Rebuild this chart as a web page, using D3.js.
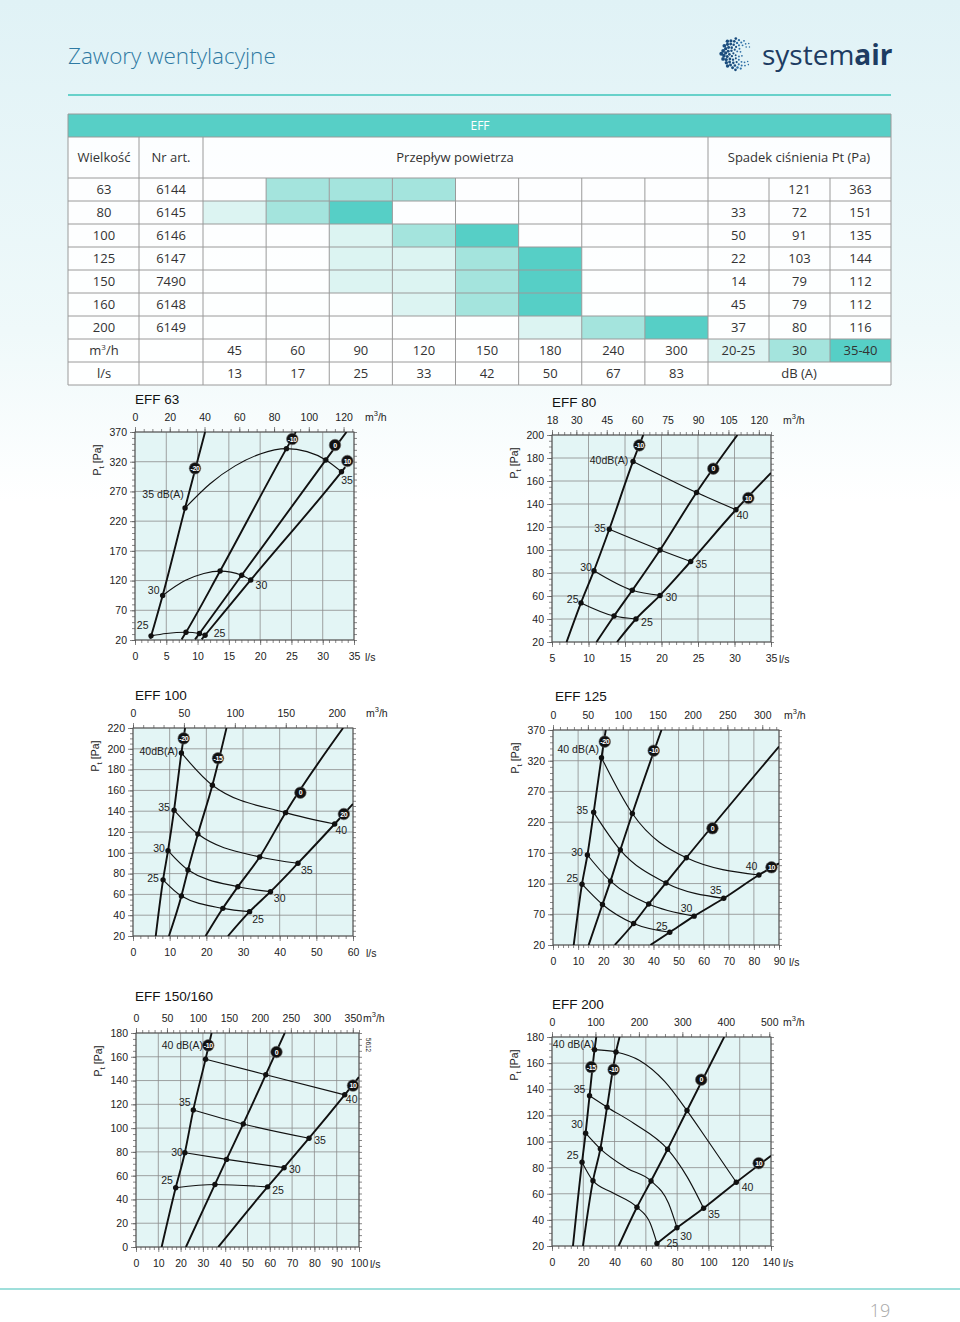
<!DOCTYPE html>
<html><head><meta charset="utf-8">
<script src="https://cdn.jsdelivr.net/npm/d3@7"></script>
<style>body{margin:0;background:#fff}svg{display:block}</style>
</head><body><svg id="c" width="960" height="1322"></svg>
<script>
// ================= TABLE DATA =================
const sizes = ["63","80","100","125","150","160","200"];
const artNos = ["6144","6145","6146","6147","7490","6148","6149"];
const flowM3h = [45,60,90,120,150,180,240,300];
const flowLs = [13,17,25,33,42,50,67,83];
const dropPa = [["",121,363],[33,72,151],[50,91,135],[22,103,144],[14,79,112],[45,79,112],[37,80,116]];
const dbLevels = ["20-25","30","35-40"];
const cellShade = [
  [0,2,2,2,0,0,0,0],[1,2,3,0,0,0,0,0],[0,0,1,2,3,0,0,0],[0,0,1,1,2,3,0,0],
  [0,0,1,1,2,3,0,0],[0,0,0,1,2,3,0,0],[0,0,0,0,0,1,2,3]];

// ================= EFF 63 =================
const eff63LsTicks = [0,5,10,15,20,25,30,35];
const eff63PaTicks = [20,70,120,170,220,270,320,370];
const eff63M3hTicks = [0,20,40,60,80,100,120];
const eff63ValveNames = ["-20","-10","0","10"];
const eff63Valves = [
  [[2.45,22],[4.42,95],[8.0,242],[11.2,370]],
  [[7.46,21],[8.15,33],[13.6,136],[24.2,342],[25.7,370]],
  [[9.6,21],[10.3,31],[17.05,129],[30.5,323],[33.8,370]],
  [[10.65,21],[11.2,28],[18.5,121],[33.0,303],[33.6,311]]];
const eff63Badges = [[9.59,308.9],[25.14,358.2],[31.96,348],[33.94,321.2]];
const eff63Db = [
  [[8.0,242,1],[12,283,0],[16,313,0],[20,333,0],[24.2,342,1],[27.5,337,0],[30.5,323,1],[33.0,303,1]],
  [[4.42,95,1],[8,120,0],[11,132,0],[13.6,136,1],[17.05,129,1],[18.5,121,1]],
  [[2.56,27,1],[5,31,0],[8.15,33,1],[10.3,31,1],[11.2,28,1]]];
const eff63DbLabels = [["35 dB(A)",1.17,265.6,"start"],["35",33.9,288],["30",2.98,103],["30",20.2,112.5],["25",1.23,44],["25",13.5,31.3]];

// ================= EFF 80 =================
const eff80LsTicks = [5,10,15,20,25,30,35];
const eff80PaTicks = [20,40,60,80,100,120,140,160,180,200];
const eff80M3hTicks = [18,30,45,60,75,90,105,120];
const eff80ValveNames = ["-10","0","10"];
const eff80Valves = [
  [[7.0,20],[8.97,54],[10.75,82],[12.85,118],[16.1,177],[17.5,200]],
  [[11.1,20],[13.5,42.6],[16.0,65],[19.8,100],[24.8,150],[30.4,200]],
  [[13.9,20],[16.5,40],[19.8,60.5],[24.0,90],[30.2,135],[35,167]]];
const eff80Badges = [[16.96,191],[27.1,170.7],[31.9,145.2]];
const eff80Db = [
  [[16.1,177,1],[24.8,150,1],[30.2,135,1]],
  [[12.85,118,1],[19.8,100,1],[24.0,90,1]],
  [[10.75,82,1],[16.0,65,1],[19.8,60.5,1]],
  [[8.97,54,1],[13.5,42.6,1],[16.5,40,1]]];
const eff80DbLabels = [["40dB(A)",15.45,178.3,"end"],["40",31.1,129.8],["35",11.58,119.1],["35",25.45,87.8],["30",9.66,84.9],["30",21.34,58.8],["25",7.83,57.4],["25",18.0,37]];

// ================= EFF 100 =================
const eff100LsTicks = [0,10,20,30,40,50,60];
const eff100PaTicks = [20,40,60,80,100,120,140,160,180,200,220];
const eff100M3hTicks = [0,50,100,150,200];
const eff100ValveNames = ["-20","-15","0","20"];
const eff100Valves = [
  [[6.2,20],[8.2,74],[9.55,102],[11.2,141],[13.2,196],[14.2,220]],
  [[9.8,20],[13.2,58.5],[15.0,83.5],[17.7,118],[21.65,165],[25.5,220]],
  [[19.8,20],[24.5,46.6],[28.6,67.4],[34.55,96],[41.6,138.6],[57.3,220]],
  [[25.9,20],[31.8,43.4],[37.5,62.6],[45,90],[55,127.7],[60,147]]];
const eff100Badges = [[13.83,210],[23.18,190.9],[45.65,157.8],[57.5,137.3]];
const eff100Db = [
  [[13.2,196,1],[21.65,165,1],[41.6,138.6,1],[55,127.7,1]],
  [[11.2,141,1],[17.7,118,1],[34.55,96,1],[45,90,1]],
  [[9.55,102,1],[15.0,83.5,1],[28.6,67.4,1],[37.5,62.6,1]],
  [[8.2,74,1],[13.2,58.5,1],[24.5,46.6,1],[31.8,43.4,1]]];
const eff100DbLabels = [["40dB(A)",12.27,197.2,"end"],["40",56.8,121.3],["35",8.46,143.4],["35",47.4,83.5],["30",7.1,104.3],["30",40,56.2],["25",5.45,75.5],["25",34.1,36.3]];

// ================= EFF 125 =================
const eff125LsTicks = [0,10,20,30,40,50,60,70,80,90];
const eff125PaTicks = [20,70,120,170,220,270,320,370];
const eff125M3hTicks = [0,50,100,150,200,250,300];
const eff125ValveNames = ["-20","-10","0","10"];
const eff125Valves = [
  [[8.25,20],[11.55,119],[13.7,166.5],[16.2,236],[19.3,325],[21,370]],
  [[14.2,20],[19.7,86],[22.9,124],[26.8,174.6],[31.6,234],[43.2,370]],
  [[24.6,20],[32.1,55],[38.1,86.7],[45.0,121],[53.1,162],[90,343]],
  [[38.8,20],[46.5,40.7],[56.2,67],[68,96],[82,134],[90,153]]];
const eff125Badges = [[20.6,351],[40.1,336.3],[63.5,210],[87,146.5]];
const eff125Db = [
  [[19.3,325,1],[31.6,234,1],[53.1,162,1],[82,134,1]],
  [[16.2,236,1],[26.8,174.6,1],[45.0,121,1],[68,96,1]],
  [[13.7,166.5,1],[22.9,124,1],[38.1,86.7,1],[56.2,67,1]],
  [[11.55,119,1],[19.7,86,1],[32.1,55,1],[46.5,40.7,1]]];
const eff125DbLabels = [["40 dB(A)",18.3,338.6,"end"],["40",79.1,147.5],["35",11.7,238.6],["35",64.8,109.5],["30",9.56,170.3],["30",53.2,79.1],["25",7.7,128.6],["25",43.3,50.9]];

// ================= EFF 150/160 =================
const eff150LsTicks = [0,10,20,30,40,50,60,70,80,90,100];
const eff150PaTicks = [0,20,40,60,80,100,120,140,160,180];
const eff150M3hTicks = [0,50,100,150,200,250,300,350];
const eff150ValveNames = ["-10","0","10"];
const eff150Valves = [
  [[11.5,0],[17.8,49.8],[21.9,79.3],[25.7,115.3],[31.2,158],[33.9,180]],
  [[22.4,0],[35.4,52.6],[40.6,73.7],[48.1,103.5],[58.2,144.9],[66.7,180]],
  [[36.9,0],[59,50.6],[66.4,66.7],[77.6,91.5],[93.6,128],[100,143]]];
const eff150Badges = [[32.4,169.6],[63,164],[97.3,135.8]];
const eff150Db = [
  [[31.2,158,1],[58.2,144.9,1],[93.6,128,1]],
  [[25.7,115.3,1],[48.1,103.5,1],[77.6,91.5,1]],
  [[21.9,79.3,1],[40.6,73.7,1],[66.4,66.7,1]],
  [[17.8,49.8,1],[35.4,52.6,1],[59,50.6,1]]];
const eff150DbLabels = [["40 dB(A)",30.1,169.6,"end"],["40",96.7,124.6],["35",21.9,121.5],["35",82.5,90],["30",18.4,79.3],["30",71.2,65.3],["25",13.9,56.3],["25",63.7,47.3]];

// ================= EFF 200 =================
const eff200LsTicks = [0,20,40,60,80,100,120,140];
const eff200PaTicks = [20,40,60,80,100,120,140,160,180];
const eff200M3hTicks = [0,100,200,300,400,500];
const eff200ValveNames = ["-15","-10","0","10"];
const eff200Valves = [
  [[13.4,20],[19.2,84.2],[21.5,106.4],[24.0,135],[27.2,170.3],[28.3,180]],
  [[19.8,20],[26.2,70],[30.9,94.4],[35.2,126.3],[40.9,168.5],[43.2,180]],
  [[42.6,20],[54.3,49.7],[63.3,69.8],[73.9,94.1],[86.3,123.7],[110.1,180]],
  [[67.1,22],[79.9,34],[96.9,48.9],[117.8,68.8],[140,89]]];
const eff200Badges = [[25.1,157],[39.4,155],[95.4,147.3],[132.1,83.4]];
const eff200Db = [
  [[27.2,170.3,1],[40.9,168.5,1],[56,162,0],[72,146,0],[86.3,123.7,1],[100,100,0],[117.8,68.8,1]],
  [[24.0,135,1],[35.2,126.3,1],[52.2,114,0],[73.9,94.1,1],[86.3,73.1,0],[96.9,48.9,1]],
  [[21.5,106.4,1],[30.9,94.4,1],[47.9,79.6,0],[63.3,69.8,1],[74.5,52.7,0],[79.9,34,1]],
  [[19.2,84.2,1],[26.2,70,1],[39.4,60.4,0],[54.3,49.7,1],[62.8,37.4,0],[67.1,22,1]]];
const eff200DbLabels = [["40 dB(A)",27.0,174.1,"end"],["40",125,65],["35",17.6,139.6],["35",103.6,44.3],["30",16,112.8],["30",85.7,27.7],["25",13.2,89.2],["25",76.9,22]];

// ================= DRAWING =================
const FT = "'Open Sans','DejaVu Sans',sans-serif";
const FC = "'Liberation Sans',Arial,sans-serif";
const svg = d3.select("#c");
const defs = svg.append("defs");
const grad = defs.append("linearGradient").attr("id","bg").attr("x1",0).attr("y1",0).attr("x2",0).attr("y2",1);
grad.append("stop").attr("offset","0%").attr("stop-color","#e0f2f6");
grad.append("stop").attr("offset","25%").attr("stop-color","#eff9fa");
grad.append("stop").attr("offset","38%").attr("stop-color","#ffffff");
svg.append("rect").attr("width",960).attr("height",1322).attr("fill","url(#bg)");

// header
svg.append("text").attr("x",68).attr("y",64).attr("font-family",FT).attr("font-size",22.5)
  .attr("font-weight",300).attr("fill","#2f7aa3").text("Zawory wentylacyjne");
const logo = svg.append("g").attr("transform","translate(737,54)");
const NL = 75;
for (let i=1;i<=NL;i++){
  const r = 16*Math.sqrt(i/NL), a = i*2.39996;
  const px = r*Math.cos(a), py = r*Math.sin(a);
  if (px>3 && Math.abs(py)<6 && r>6) continue;
  const s = 0.55 + 1.5*((16-px)/32)*(0.45+0.55*r/16);
  logo.append("circle").attr("cx",px).attr("cy",py).attr("r",s).attr("fill", px<0?"#1b4d7e":"#2f6fa6");
}
const lt = svg.append("text").attr("x",762).attr("y",65).attr("font-family",FT).attr("font-size",28).attr("fill","#1d3c62");
lt.append("tspan").text("system");
lt.append("tspan").attr("font-weight",700).text("air");
svg.append("line").attr("x1",68).attr("x2",891).attr("y1",95).attr("y2",95).attr("stroke","#67d1ca").attr("stroke-width",2);

// table
const shadeCol = [null,"#dcf4f2","#a4e4dd","#56cfc6"];
const flowBand = d3.scaleBand().domain(flowM3h).range([203,708]);
const pBand = d3.scaleBand().domain([0,1,2]).range([708,891]);
const rowBand = d3.scaleBand().domain(sizes).range([178,339]);
const T = svg.append("g");
T.append("rect").attr("x",68).attr("y",137).attr("width",823).attr("height",248).attr("fill","#ffffff").attr("opacity",0.88);
T.append("rect").attr("x",68).attr("y",114).attr("width",823).attr("height",23).attr("fill","#57cfc6");
sizes.forEach((s,i)=>{
  cellShade[i].forEach((lv,j)=>{ if(lv) T.append("rect").attr("x",flowBand(flowM3h[j])).attr("y",rowBand(s))
    .attr("width",flowBand.bandwidth()).attr("height",rowBand.bandwidth()).attr("fill",shadeCol[lv]); });
});
dbLevels.forEach((d,k)=>T.append("rect").attr("x",pBand(k)).attr("y",339).attr("width",pBand.bandwidth()).attr("height",23).attr("fill",shadeCol[k+1]));
const hl = [114,137,178,...sizes.map(s=>rowBand(s)+rowBand.bandwidth()),362,385];
hl.forEach(yv=>T.append("line").attr("x1",68).attr("x2",891).attr("y1",yv).attr("y2",yv).attr("stroke","#9a9a9a").attr("stroke-width",1));
const vline=(xv,a,b)=>T.append("line").attr("x1",xv).attr("x2",xv).attr("y1",a).attr("y2",b).attr("stroke","#9a9a9a").attr("stroke-width",1);
vline(68,114,385); vline(891,114,385); vline(139,137,385); vline(203,137,385); vline(708,137,385);
flowM3h.slice(1).forEach(f=>vline(flowBand(f),178,385));
[1,2].forEach(k=>vline(pBand(k),178,362));
const tt=(x,y,s,opt={})=>T.append("text").attr("x",x).attr("y",y).attr("text-anchor","middle").attr("font-family",FT)
  .attr("font-size",opt.fs||13).attr("fill",opt.fill||"#333").text(s);
tt(480,130,"EFF",{fill:"#fff",fs:12});
tt(104,162,"Wielkość"); tt(171,162,"Nr art."); tt(455,162,"Przepływ powietrza"); tt(799,162,"Spadek ciśnienia Pt (Pa)");
sizes.forEach((s,i)=>{
  const yy = rowBand(s)+rowBand.bandwidth()/2+4.5;
  tt(104,yy,s); tt(171,yy,artNos[i]);
  dropPa[i].forEach((v,k)=>tt(pBand(k)+pBand.bandwidth()/2,yy,v));
});
const m3t = T.append("text").attr("x",104).attr("y",355).attr("text-anchor","middle").attr("font-family",FT).attr("font-size",13).attr("fill","#333");
m3t.append("tspan").text("m"); m3t.append("tspan").attr("dy",-5).attr("font-size",8).text("3"); m3t.append("tspan").attr("dy",5).text("/h");
tt(104,378,"l/s");
flowM3h.forEach((f,j)=>{ const cx=flowBand(f)+flowBand.bandwidth()/2; tt(cx,355,f); tt(cx,378,flowLs[j]); });
dbLevels.forEach((d,k)=>tt(pBand(k)+pBand.bandwidth()/2,355,d));
tt(799,378,"dB (A)");

// charts
const charts = [
 {title:"EFF 63",box:[135,354,432,640],xDom:[0,35],yDom:[20,370],ls:eff63LsTicks,pa:eff63PaTicks,m3h:eff63M3hTicks,lsMinor:1,paMinor:10,m3hMinor:5,
  valves:eff63Valves,names:eff63ValveNames,badges:eff63Badges,db:eff63Db,labels:eff63DbLabels,uTop:11,uBot:11,titleX:135,titleDy:-28},
 {title:"EFF 80",box:[552,771,435,642],xDom:[5,35],yDom:[20,200],ls:eff80LsTicks,pa:eff80PaTicks,m3h:eff80M3hTicks,lsMinor:1,paMinor:5,m3hMinor:3,
  valves:eff80Valves,names:eff80ValveNames,badges:eff80Badges,db:eff80Db,labels:eff80DbLabels,uTop:12,uBot:8,titleX:552,titleDy:-28},
 {title:"EFF 100",box:[133,353,728,936],xDom:[0,60],yDom:[20,220],ls:eff100LsTicks,pa:eff100PaTicks,m3h:eff100M3hTicks,lsMinor:2,paMinor:5,m3hMinor:10,
  valves:eff100Valves,names:eff100ValveNames,badges:eff100Badges,db:eff100Db,labels:eff100DbLabels,uTop:13,uBot:13,titleX:135,titleDy:-28},
 {title:"EFF 125",box:[553,779,730,945],xDom:[0,90],yDom:[20,370],ls:eff125LsTicks,pa:eff125PaTicks,m3h:eff125M3hTicks,lsMinor:2,paMinor:10,m3hMinor:10,
  valves:eff125Valves,names:eff125ValveNames,badges:eff125Badges,db:eff125Db,labels:eff125DbLabels,uTop:5,uBot:10,titleX:555,titleDy:-29},
 {title:"EFF 150/160",box:[136,359,1033,1247],xDom:[0,100],yDom:[0,180],ls:eff150LsTicks,pa:eff150PaTicks,m3h:eff150M3hTicks,lsMinor:2,paMinor:5,m3hMinor:10,
  valves:eff150Valves,names:eff150ValveNames,badges:eff150Badges,db:eff150Db,labels:eff150DbLabels,uTop:4,uBot:11,titleX:135,titleDy:-32,note:"5612"},
 {title:"EFF 200",box:[552,771,1037,1246],xDom:[0,140],yDom:[20,180],ls:eff200LsTicks,pa:eff200PaTicks,m3h:eff200M3hTicks,lsMinor:4,paMinor:5,m3hMinor:20,
  valves:eff200Valves,names:eff200ValveNames,badges:eff200Badges,db:eff200Db,labels:eff200DbLabels,uTop:12,uBot:12,titleX:552,titleDy:-28}
];

function rng(dom, step){ const a=Math.ceil(dom[0]/step-1e-9)*step; return d3.range(a, dom[1]+step*0.01, step); }

charts.forEach((c,idx)=>{
  const [x0,x1,y0,y1] = c.box;
  const g = svg.append("g");
  const x = d3.scaleLinear().domain(c.xDom).range([x0,x1]);
  const y = d3.scaleLinear().domain(c.yDom).range([y1,y0]);
  const topDom = [c.xDom[0]*3.6, c.xDom[1]*3.6];
  const xt = d3.scaleLinear().domain(topDom).range([x0,x1]);
  g.append("rect").attr("x",x0).attr("y",y0).attr("width",x1-x0).attr("height",y1-y0).attr("fill","#e3f5f5");
  g.append("g").selectAll("line").data(c.ls).join("line").attr("x1",d=>x(d)).attr("x2",d=>x(d)).attr("y1",y0).attr("y2",y1)
    .attr("stroke","#8c8c8c").attr("stroke-width",0.8);
  g.append("g").selectAll("line").data(c.pa).join("line").attr("y1",d=>y(d)).attr("y2",d=>y(d)).attr("x1",x0).attr("x2",x1)
    .attr("stroke","#8c8c8c").attr("stroke-width",0.8);
  const tk=(axis,tr)=>{ const a=g.append("g").attr("transform",tr).call(axis); a.select(".domain").remove();
    a.selectAll("line").attr("stroke","#555").attr("stroke-width",0.7); };
  // minor ticks (outside)
  tk(d3.axisBottom(x).tickValues(rng(c.xDom,c.lsMinor)).tickSize(3).tickFormat(""),`translate(0,${y1})`);
  tk(d3.axisLeft(y).tickValues(rng(c.yDom,c.paMinor)).tickSize(3).tickFormat(""),`translate(${x0},0)`);
  tk(d3.axisRight(y).tickValues(rng(c.yDom,c.paMinor)).tickSize(3).tickFormat(""),`translate(${x1},0)`);
  tk(d3.axisTop(xt).tickValues(rng(topDom,c.m3hMinor)).tickSize(3).tickFormat(""),`translate(0,${y0})`);
  // major ticks (outside, longer)
  tk(d3.axisBottom(x).tickValues(c.ls).tickSize(5).tickFormat(""),`translate(0,${y1})`);
  tk(d3.axisLeft(y).tickValues(c.pa).tickSize(5).tickFormat(""),`translate(${x0},0)`);
  tk(d3.axisTop(xt).tickValues(c.m3h).tickSize(5).tickFormat(""),`translate(0,${y0})`);
  g.append("rect").attr("x",x0).attr("y",y0).attr("width",x1-x0).attr("height",y1-y0).attr("fill","none").attr("stroke","#555").attr("stroke-width",1);

  const lab=(axis,tr)=>{ const a=g.append("g").attr("transform",tr).call(axis); a.select(".domain").remove(); a.selectAll("line").remove();
    a.selectAll("text").attr("font-family",FC).attr("font-size",10.5).attr("fill","#222"); };
  lab(d3.axisBottom(x).tickValues(c.ls).tickSize(0).tickPadding(12.5),`translate(0,${y1})`);
  lab(d3.axisLeft(y).tickValues(c.pa).tickSize(0).tickPadding(8),`translate(${x0},0)`);
  lab(d3.axisTop(xt).tickValues(c.m3h).tickSize(0).tickPadding(11),`translate(0,${y0})`);

  const ut = g.append("text").attr("x",x1+c.uTop).attr("y",y0-11).attr("font-family",FC).attr("font-size",10.5).attr("fill","#222");
  ut.append("tspan").text("m"); ut.append("tspan").attr("dy",-5).attr("font-size",7.5).text("3"); ut.append("tspan").attr("dy",5).text("/h");
  g.append("text").attr("x",x1+c.uBot).attr("y",y1+20.5).attr("font-family",FC).attr("font-size",10.5).attr("fill","#222").text("l/s");
  const yl = g.append("text").attr("transform",`translate(${x0-34},${y0+28}) rotate(-90)`).attr("text-anchor","middle")
    .attr("font-family",FC).attr("font-size",10.5).attr("fill","#222");
  yl.append("tspan").text("P"); yl.append("tspan").attr("dy",3).attr("font-size",8).text("t"); yl.append("tspan").attr("dy",-3).text(" [Pa]");
  g.append("text").attr("x",c.titleX).attr("y",y0+c.titleDy).attr("font-family",FC).attr("font-size",13.5).attr("fill","#111").text(c.title);
  if (c.note) g.append("text").attr("transform",`translate(${x1+7},${y0+12}) rotate(90)`).attr("text-anchor","middle")
    .attr("font-family",FC).attr("font-size",6.5).attr("fill","#222").text(c.note);

  const cid="clip"+idx;
  defs.append("clipPath").attr("id",cid).append("rect").attr("x",x0).attr("y",y0).attr("width",x1-x0).attr("height",y1-y0);
  const pg = g.append("g").attr("clip-path",`url(#${cid})`);
  const lg = d3.line().x(d=>x(d[0])).y(d=>y(d[1])).curve(d3.curveMonotoneX);
  pg.append("g").selectAll("path").data(c.valves).join("path").attr("d",lg).attr("fill","none").attr("stroke","#111").attr("stroke-width",1.9);
  pg.append("g").selectAll("path").data(c.db).join("path").attr("d",lg).attr("fill","none").attr("stroke","#111").attr("stroke-width",1.15);
  g.append("g").selectAll("circle").data(c.db.flat().filter(d=>d[2])).join("circle")
    .attr("cx",d=>x(d[0])).attr("cy",d=>y(d[1])).attr("r",2.7).attr("fill","#111");
  const bg = g.append("g").selectAll("g").data(c.badges).join("g").attr("transform",d=>`translate(${x(d[0])},${y(d[1])})`);
  bg.append("circle").attr("r",5.8).attr("fill","#111").attr("stroke","#666").attr("stroke-width",0.6);
  bg.append("text").attr("text-anchor","middle").attr("dy","0.36em").attr("font-family",FC).attr("font-size",7)
    .attr("font-weight",700).attr("letter-spacing",-0.4).attr("fill","#fff").text((d,i)=>c.names[i]);
  g.append("g").selectAll("text").data(c.labels).join("text").attr("x",d=>x(d[1])).attr("y",d=>y(d[2])).attr("dy","0.35em")
    .attr("text-anchor",d=>d[3]||"middle").attr("font-family",FC).attr("font-size",10.5).attr("fill","#222").text(d=>d[0]);
});

// footer
svg.append("line").attr("x1",0).attr("x2",960).attr("y1",1289).attr("y2",1289).attr("stroke","#7fd5cf").attr("stroke-width",1.5);
svg.append("text").attr("x",880).attr("y",1317).attr("text-anchor","middle").attr("font-family",FT).attr("font-size",18)
  .attr("font-weight",300).attr("fill","#a8a8a8").text("19");
</script></body></html>
